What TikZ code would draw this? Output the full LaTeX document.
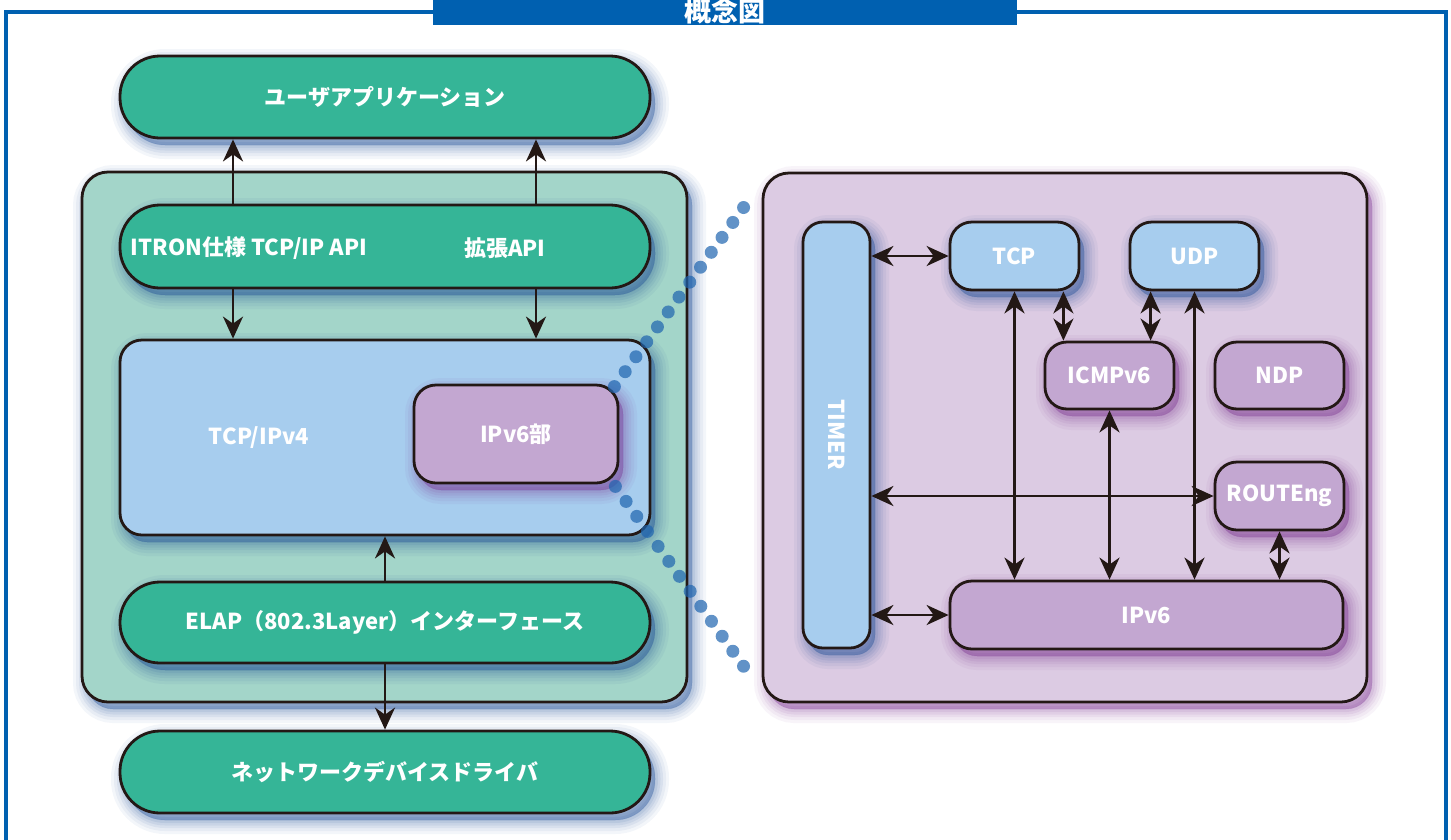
\documentclass[tikz,border=0pt]{standalone}
\usepackage{fontspec}
\setmainfont{Noto Sans CJK JP}
\usetikzlibrary{arrows.meta}

\definecolor{linecol}{HTML}{231815}
\definecolor{frameblue}{HTML}{0060B0}
\definecolor{boxgreen}{HTML}{35B597}
\definecolor{panegreen}{HTML}{A3D5C9}
\definecolor{boxblue}{HTML}{A7CDEE}
\definecolor{boxpurple}{HTML}{C3A7D1}
\definecolor{panepurple}{HTML}{DCCBE3}
\definecolor{glowblue}{HTML}{1A4A94}
\definecolor{glowpurple}{HTML}{7A3090}
\definecolor{dotblue}{HTML}{1E64AF}

\tikzset{
  glow/.style={
    preaction={fill=#1, draw=#1, opacity=.05, line width=28pt, transform canvas={xshift=5pt,yshift=-7pt}},
    preaction={fill=#1, draw=#1, opacity=.06, line width=22pt, transform canvas={xshift=5pt,yshift=-7pt}},
    preaction={fill=#1, draw=#1, opacity=.07, line width=16pt, transform canvas={xshift=5pt,yshift=-7pt}},
    preaction={fill=#1, draw=#1, opacity=.08, line width=11pt, transform canvas={xshift=5pt,yshift=-7pt}},
    preaction={fill=#1, draw=#1, opacity=.09, line width=6pt, transform canvas={xshift=5pt,yshift=-7pt}},
    preaction={fill=#1, draw=#1, opacity=.10, line width=1pt, transform canvas={xshift=5pt,yshift=-7pt}}},
  label font/.style={text=white, font=\bfseries\fontsize{22pt}{26pt}\selectfont},
  box/.style={draw=linecol, line width=2.8pt, inner sep=0pt, label font},
  pane/.style={box, rounded corners=26pt},
  gbox/.style={box, fill=boxgreen, rounded corners=40pt, minimum width=530pt, minimum height=82pt, glow=glowblue},
  bbox/.style={box, fill=boxblue, rounded corners=22pt, glow=glowblue},
  pbox/.style={box, fill=boxpurple, rounded corners=22pt, glow=glowpurple},
  small/.style={minimum width=129pt, minimum height=68pt},
  plain/.style={inner sep=0pt, label font},
  link/.style={draw=linecol, line width=2.8pt},
  dots/.style={draw=dotblue, opacity=.7, line width=13pt, line cap=round, dash pattern=on 0pt off 18.4pt},
  >={Stealth[length=22pt,width=20pt,inset=7pt]}
}

\begin{document}
\begin{tikzpicture}[x=1pt,y=-1pt]
    \useasboundingbox (0,0) rectangle (1451,839);
    \clip (0,0) rectangle (1451,839);

    % frame and title
    \draw[frameblue, line width=4pt] (6,860) -- (6,11.5) -- (1446,11.5) -- (1446,860);
    \node[fill=frameblue, minimum width=584pt, minimum height=24pt, inner sep=0pt, text=white,
          font=\bfseries\fontsize{27pt}{27pt}\selectfont] (title) at (724.5,11.5) {\raisebox{4pt}{概念図}};

    % left side
    \node[pane, fill=panegreen, glow=glowblue, minimum width=605pt, minimum height=530pt] (lpane) at (384.5,437) {};
    \node[gbox] (app) at (385,97) {ユーザアプリケーション};
    \node[gbox, minimum height=83pt] (itron) at (385,246.5) {};
    \node[plain] (itronapi) at (249,248) {ITRON仕様 TCP/IP API};
    \node[plain] (extapi) at (505,248) {拡張API};
    \node[bbox, minimum width=530pt, minimum height=195pt] (ipv4) at (385,437.5) {};
    \node[plain] (ipv4txt) at (259,438) {TCP/IPv4};
    \node[pbox, minimum width=204pt, minimum height=98pt] (v6part) at (516,434) {IPv6部};
    \node[gbox, minimum height=81pt] (elap) at (385,622.5) {ELAP（802.3Layer）インターフェース};
    \node[gbox] (net) at (385,772) {ネットワークデバイスドライバ};

    % right side
    \node[pane, fill=panepurple, glow=glowpurple, minimum width=604pt, minimum height=529pt] (rpane) at (1065,437.5) {};
    \node[bbox, rounded corners=20pt, minimum width=67pt, minimum height=426pt] (timer) at (836.5,435) {\rotatebox{-90}{TIMER}};
    \node[bbox, small] (tcp) at (1014.5,256) {TCP};
    \node[bbox, small] (udp) at (1194.5,256) {UDP};
    \node[pbox, small, minimum height=67pt] (icmp) at (1109.5,375.5) {ICMPv6};
    \node[pbox, small, minimum height=67pt] (ndp) at (1279.5,375.5) {NDP};
    \node[pbox, small] (route) at (1279.5,496) {ROUTEng};
    \node[pbox, minimum width=393pt, minimum height=68pt] (ipv6) at (1146.5,615) {IPv6};

    \draw[link, ->] ([xshift=-152pt]itron.north) -- ([xshift=-152pt]app.south);
    \draw[link, ->] ([xshift=151pt]itron.north) -- ([xshift=151pt]app.south);
    \draw[link, ->] ([xshift=-152pt]itron.south) -- ([xshift=-152pt]ipv4.north);
    \draw[link, ->] ([xshift=151pt]itron.south) -- ([xshift=151pt]ipv4.north);
    \draw[link, ->] (elap.north) -- (ipv4.south);
    \draw[link, ->] (elap.south) -- (net.north);

    \draw[link, <->] (timer.east |- tcp.west) -- (tcp.west);
    \draw[link, <->] (timer.east |- route.west) -- (route.west);
    \draw[link, <->] (timer.east |- ipv6.west) -- (ipv6.west);
    \draw[link, <->] (tcp.south) -- (tcp.south |- ipv6.north);
    \draw[link, <->] ([xshift=-17pt]tcp.south east) -- ([xshift=-17pt]tcp.south east |- icmp.north);
    \draw[link, <->] ([xshift=22pt]udp.south west) -- ([xshift=22pt]udp.south west |- icmp.north);
    \draw[link, <->] (udp.south) -- (udp.south |- ipv6.north);
    \draw[link, <->] (icmp.south) -- (icmp.south |- ipv6.north);
    \draw[link, <->] (route.south) -- (route.south |- ipv6.north);

    % zoom dots
    \draw[dots] ([xshift=-5pt,yshift=-3pt]v6part.north east) -- ([xshift=-8pt,yshift=-22pt]rpane.north west);
    \draw[dots] ([xshift=-4pt,yshift=-2pt]v6part.south east) -- ([xshift=-8pt,yshift=23pt]rpane.south west);
\end{tikzpicture}
\end{document}
